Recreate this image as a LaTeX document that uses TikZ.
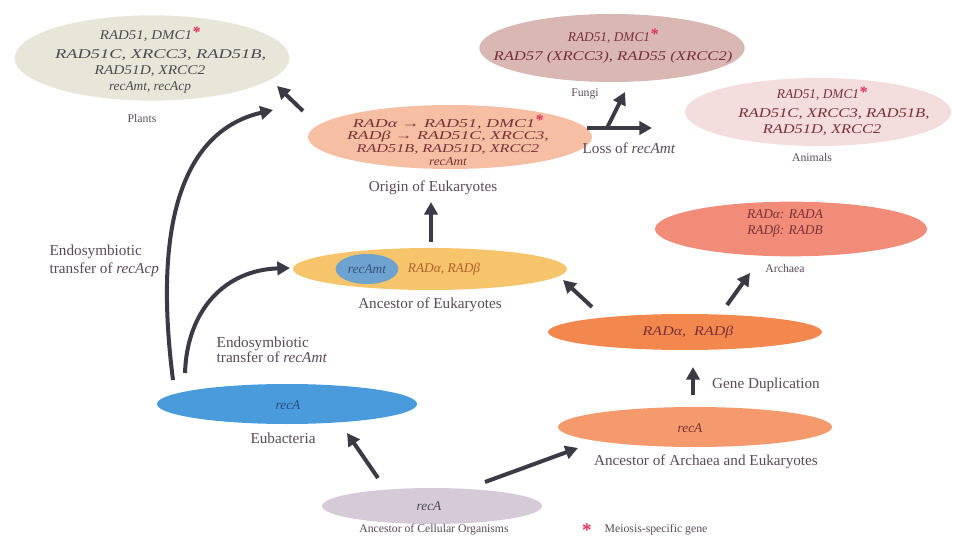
\documentclass[tikz,border=0pt]{standalone}
\usepackage{fontspec}
\usepackage{graphicx}
\setmainfont{Liberation Serif}
\usetikzlibrary{shapes.geometric,arrows.meta}
\definecolor{plantfill}{HTML}{E8E6D8}
\definecolor{fungifill}{HTML}{D9B7B3}
\definecolor{animfill}{HTML}{F3DDDD}
\definecolor{originfill}{HTML}{F6BFA4}
\definecolor{anceukfill}{HTML}{F6C46A}
\definecolor{mtfill}{HTML}{6EA3CF}
\definecolor{archfill}{HTML}{F08C78}
\definecolor{dupfill}{HTML}{F2884E}
\definecolor{arceukfill}{HTML}{F49A6C}
\definecolor{eubacfill}{HTML}{4A9BDB}
\definecolor{cellfill}{HTML}{D6CAD8}
\definecolor{plantink}{HTML}{4B4B50}
\definecolor{geneink}{HTML}{7A3038}
\definecolor{anceukink}{HTML}{B0602A}
\definecolor{mtink}{HTML}{34527E}
\definecolor{eubacink}{HTML}{2A4A80}
\definecolor{lblgray}{HTML}{5A4858}
\definecolor{arrgray}{HTML}{3B3B45}
\definecolor{meiored}{HTML}{E0305A}
\newcommand{\meio}{\textcolor{meiored}{\raisebox{.3ex}{\bfseries\large *}}}
\newcommand{\stretchline}[2]{\scalebox{#1}[1]{#2}}

\begin{document}
\begin{tikzpicture}[x=0.75pt,y=-0.75pt,
        blob/.style={ellipse,inner sep=0pt,outer sep=0pt},
        gene/.style={font=\itshape\fontsize{10}{12}\selectfont,align=center,text=geneink},
        lbl/.style={font=\fontsize{11.4}{13}\selectfont,text=lblgray},
        slbl/.style={font=\fontsize{8.8}{10}\selectfont,text=lblgray},
        arr/.style={-{Triangle[length=9.5pt,width=10pt]},line width=3pt,draw=arrgray}]
  \useasboundingbox (0,0) rectangle (953,545);
  % ellipses
  \node[blob,fill=plantfill,minimum width=206pt,minimum height=64pt](plants) at(152,58){};
  \node[blob,fill=fungifill,minimum width=199pt,minimum height=51pt](fungi) at(612,48){};
  \node[blob,fill=animfill,minimum width=199.5pt,minimum height=51pt](animals) at(818,112){};
  \node[blob,fill=originfill,minimum width=213pt,minimum height=48pt](origin) at(450,137){};
  \node[blob,fill=anceukfill,minimum width=205.5pt,minimum height=31.5pt](anceuk) at(430,269){};
  \node[blob,fill=mtfill,minimum width=47pt,minimum height=22.5pt](recamt) at(367,269){};
  \node[blob,fill=archfill,minimum width=204pt,minimum height=41pt](archaea) at(791,229){};
  \node[blob,fill=dupfill,minimum width=205.5pt,minimum height=27pt](dup) at(685,332){};
  \node[blob,fill=arceukfill,minimum width=205.5pt,minimum height=30pt](arceuk) at(695,427){};
  \node[blob,fill=eubacfill,minimum width=195pt,minimum height=30pt](eubac) at(287,404){};
  \node[blob,fill=cellfill,minimum width=165pt,minimum height=27pt](cell) at(432,506){};
  % genes
  \node[gene,text=plantink](plantsg) at(150,60){\stretchline{1.12}{RAD51, DMC1}\meio\\[2pt]
        \hspace*{16pt}\stretchline{1.38}{RAD51C, XRCC3, RAD51B,}\\\stretchline{1.15}{RAD51D, XRCC2}\\recAmt, recAcp};
  \node[gene](fungig) at(613,46){RAD51, DMC1\meio\\[2pt]\stretchline{1.25}{RAD57 (XRCC3), RAD55 (XRCC2)}};
  \node[gene](animalsg) at(822,111){RAD51, DMC1\meio\\[2pt]
        \hspace*{18pt}\stretchline{1.25}{RAD51C, XRCC3, RAD51B,}\\\stretchline{1.23}{RAD51D, XRCC2}};
  \node[gene,font=\itshape\fontsize{9}{9.5}\selectfont](origing) at(448,140){\stretchline{1.5}{RADα → RAD51, DMC1}\meio\\
        \stretchline{1.48}{RADβ → RAD51C, XRCC3,}\\\stretchline{1.35}{RAD51B, RAD51D, XRCC2}\\\stretchline{1.1}{recAmt}};
  \node[gene,text=mtink](recamtg) at(recamt.center){recAmt};
  \node[gene,text=anceukink](anceukg) at(444,269){RADα,\ RADβ};
  \node[gene](archaeag) at(785,224){RADα: RADA\\RADβ: RADB};
  \node[gene](dupg) at(688,332){\stretchline{1.2}{RADα,\ \ RADβ}};
  \node[gene](arceukg) at(690,428){recA};
  \node[gene,text=eubacink](eubacg) at(288,405){recA};
  \node[gene,text=plantink](cellg) at(429,506){recA};
  % labels
  \node[slbl](plantsl) at(142,118){Plants};
  \node[slbl](fungil) at(585,94){Fungi};
  \node[slbl](animalsl) at(812,157){Animals};
  \node[lbl](originl) at(433,188){Origin of Eukaryotes};
  \node[lbl](lossl) at(629,148){Loss of \textit{recAmt}};
  \node[lbl](anceukl) at(430,305){Ancestor of Eukaryotes};
  \node[slbl](archaeal) at(785,268){Archaea};
  \node[lbl](dupl) at(766,385){Gene Duplication};
  \node[lbl](arceukl) at(706,462){Ancestor of Archaea and Eukaryotes};
  \node[lbl](eubacl) at(283,438){Eubacteria};
  \node[slbl](celll) at(434,530){Ancestor of Cellular Organisms};
  \node[lbl,anchor=west,align=left](endocp) at(45,261){Endosymbiotic\\transfer of \textit{recAcp}};
  \node[lbl,anchor=west,align=left,font=\fontsize{11.4}{10}\selectfont](endomt) at(212,350){Endosymbiotic\\transfer of \textit{recAmt}};
  \node[text=meiored,font=\bfseries\Large](legstar) at(587,530){*};
  \node[slbl,anchor=west](legtext) at(600,530){Meiosis-specific gene};
  % arrows
  \coordinate (split) at(607,128);
  \coordinate (loss) at(652,128);
  \draw[arr]([shift={(-54,-28)}]cell.center)--([shift={(60,29)}]eubac.center);
  \draw[arr]([shift={(53,-24)}]cell.center)--([shift={(-117,21)}]arceuk.center);
  \draw[arr]([shift={(-2,-32)}]arceuk.center)--([shift={(8,35)}]dup.center);
  \draw[arr]([shift={(42,-27)}]dup.center)--([shift={(-41,44)}]archaea.center);
  \draw[arr]([shift={(-93,-25)}]dup.center)--([shift={(133,11)}]anceuk.center);
  \draw[arr]([shift={(1,-27)}]anceuk.center)--([shift={(-19,65)}]origin.center);
  \draw[arr]([shift={(-147,-26)}]origin.center)--([shift={(125,28)}]plants.center);
  \draw[arr]([shift={(137,-9)}]origin.center)--(loss);
  \draw[arr](split)--([shift={(13,44)}]fungi.center);
  \draw[arr]([shift={(-114,-24)}]eubac.center) .. controls +(-23,-180) and +(-78,18) .. ([shift={(121,52)}]plants.center);
  \draw[arr]([shift={(-102,-31)}]eubac.center) .. controls +(2,-63) and +(-65,2) .. ([shift={(-140,-1)}]anceuk.center);
\end{tikzpicture}
\end{document}
